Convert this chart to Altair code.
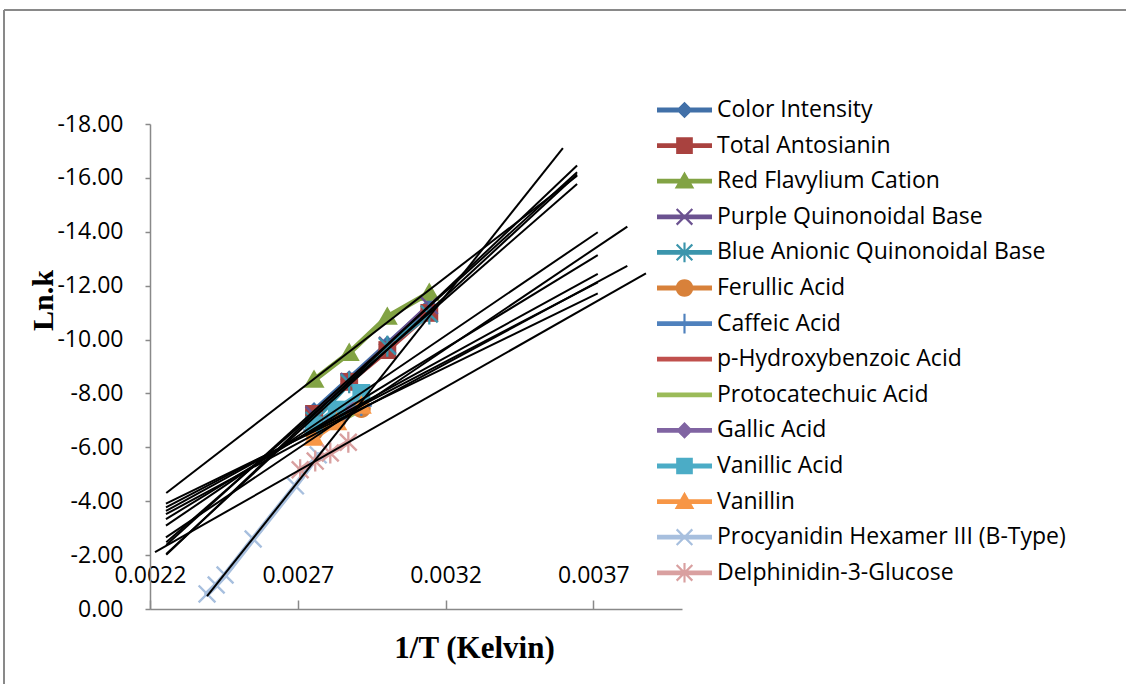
import math
import numpy as np
import pandas as pd
import altair as alt

# ---------------- data ----------------
series_names = [
    "Color Intensity", "Total Antosianin", "Red Flavylium Cation",
    "Purple Quinonoidal Base", "Blue Anionic Quinonoidal Base", "Ferullic Acid",
    "Caffeic Acid", "p-Hydroxybenzoic Acid", "Protocatechuic Acid", "Gallic Acid",
    "Vanillic Acid", "Vanillin", "Procyanidin Hexamer III (B-Type)",
    "Delphinidin-3-Glucose",
]
series_colors = [
    "#4170A8", "#A9423F", "#82A344", "#6B5290", "#3B95AC", "#D8813A",
    "#4F81BD", "#C0504D", "#9BBB59", "#8064A2", "#4BACC6", "#F79646",
    "#A7BFDE", "#D9A0A0",
]
series_markers = [
    "diamond", "square", "triangle", "x", "asterisk", "circle", "plus",
    "none", "none", "diamond", "square", "triangle", "x", "asterisk",
]

# 1/T values (1/K)
inv_t_anthocyanin = [0.002755, 0.002874, 0.003003, 0.003145]
inv_t_phenolic = [0.002754, 0.002832, 0.002915]
inv_t_procyanidin = [0.002393, 0.002424, 0.002454, 0.002549, 0.002692, 0.002769]
inv_t_delphinidin = [0.002708, 0.002759, 0.002810, 0.002871]

# ln k values
ln_k_color_intensity = [-7.35, -8.53, -9.82, -11.23]
ln_k_total_antosianin = [-7.24, -8.43, -9.61, -10.99]
ln_k_red_flavylium = [-8.50, -9.50, -10.84, -11.73]
ln_k_purple_quinonoidal = [-7.21, -8.44, -9.79, -11.26]
ln_k_blue_anionic = [-7.00, -8.40, -9.75, -10.95]
ln_k_ferullic = [-6.58, -7.00, -7.44]
ln_k_caffeic = [-6.63, -7.08, -7.55]
ln_k_p_hydroxybenzoic = [-6.65, -7.12, -7.62]
ln_k_protocatechuic = [-6.47, -6.93, -7.42]
ln_k_gallic = [-6.69, -7.21, -7.77]
ln_k_vanillic = [-6.82, -7.40, -8.02]
ln_k_vanillin = [-6.35, -6.93, -7.54]
ln_k_procyanidin = [-0.56, -0.89, -1.26, -2.60, -4.57, -5.72]
ln_k_delphinidin = [-5.17, -5.49, -5.79, -6.19]

# linear trendline extents (backward / forward forecast), in 1/T units
trend_start = [0.002255] * 5 + [0.002254] * 7 + [0.002393, 0.002217]
trend_end = [0.003645] * 5 + [0.003715, 0.003715, 0.003715, 0.003815,
                              0.003715, 0.003715, 0.003815] + [0.003597, 0.003878]

x_ticks = [0.0022, 0.0027, 0.0032, 0.0037]
y_ticks = [-18, -16, -14, -12, -10, -8, -6, -4, -2, 0]

# ---------------- assemble tables ----------------
series_x = [inv_t_anthocyanin] * 5 + [inv_t_phenolic] * 7 + [inv_t_procyanidin, inv_t_delphinidin]
series_y = [
    ln_k_color_intensity, ln_k_total_antosianin, ln_k_red_flavylium,
    ln_k_purple_quinonoidal, ln_k_blue_anionic, ln_k_ferullic, ln_k_caffeic,
    ln_k_p_hydroxybenzoic, ln_k_protocatechuic, ln_k_gallic, ln_k_vanillic,
    ln_k_vanillin, ln_k_procyanidin, ln_k_delphinidin,
]

rows = []
for name, xs, ys in zip(series_names, series_x, series_y):
    for xv, yv in zip(xs, ys):
        rows.append({"series": name, "inv_t": xv, "ln_k": yv})
df = pd.DataFrame(rows)

trend_rows = []
for name, xs, ys, x0, x1 in zip(series_names, series_x, series_y, trend_start, trend_end):
    slope, intercept = np.polyfit(xs, ys, 1)
    for xv in (x0, x1):
        trend_rows.append({"series": name, "inv_t": xv, "ln_k": slope * xv + intercept})
trend_df = pd.DataFrame(trend_rows)

# ---------------- marker shapes (SVG paths in [-1, 1]) ----------------
A, D, T = 0.8, 0.08, 0.11
x_a = [(-A + D, -A - D), (A + D, A - D), (A - D, A + D), (-A - D, -A + D)]
x_b = [(-A - D, A - D), (A - D, -A - D), (A + D, -A + D), (-A + D, A + D)]
v_bar = [(-T, -1), (T, -1), (T, 1), (-T, 1)]
h_bar = [(-1, -T), (1, -T), (1, T), (-1, T)]
MARKER_POLYS = {
    "diamond": [[(0, -0.85), (0.85, 0), (0, 0.85), (-0.85, 0)]],
    "square": [[(-0.85, -0.85), (0.85, -0.85), (0.85, 0.85), (-0.85, 0.85)]],
    "triangle": [[(0, -1), (1, 0.75), (-1, 0.75)]],
    "circle": [[(0.9 * math.cos(2 * math.pi * i / 28), 0.9 * math.sin(2 * math.pi * i / 28))
                for i in range(28)]],
    "x": [x_a, x_b],
    "asterisk": [x_a, x_b, v_bar],
    "plus": [v_bar, h_bar],
    "none": [],
}


def poly_path(polys, s):
    return "".join("M" + "L".join(f"{px * s:.4f},{py * s:.4f}" for px, py in pts) + "Z"
                   for pts in polys)


MARKER_PX = 10.5           # half size of a plot marker in pixels
LEGEND_MARKER_PX = 9.8     # half size of a legend marker in pixels
LEGEND_HALF = 27.5         # half length of the legend line sample in pixels
LINE_HALF = 2.4            # half thickness of the legend line sample
legend_line = [(-1, -LINE_HALF / LEGEND_HALF), (1, -LINE_HALF / LEGEND_HALF),
               (1, LINE_HALF / LEGEND_HALF), (-1, LINE_HALF / LEGEND_HALF)]

marked = [(n, m) for n, m in zip(series_names, series_markers) if m != "none"]
point_domain = [n for n, _ in marked]
point_paths = [poly_path(MARKER_POLYS[m], 1.0) for _, m in marked]
legend_paths = [poly_path([legend_line], 1.0)
                + poly_path(MARKER_POLYS[m], LEGEND_MARKER_PX / LEGEND_HALF)
                for m in series_markers]
points_df = df[df["series"].isin(point_domain)]

# ---------------- styles ----------------
GRAY = "#898989"
LABEL_FONT = "Open Sans"
TITLE_FONT = "Liberation Serif"

x_scale = alt.Scale(domain=[0.0022, 0.0040], nice=False, zero=False)
y_scale = alt.Scale(domain=[-18, 0], reverse=True, nice=False, zero=False)

x_axis = alt.Axis(
    orient="top", offset=-485, values=x_ticks, format=".4f", labelFlush=False,
    labelFont=LABEL_FONT, labelFontSize=23, labelColor="#000000", labelPadding=13,
    tickSize=9, tickColor=GRAY, tickWidth=1.5, domainColor=GRAY, domainWidth=1.5,
    grid=False, title="1/T (Kelvin)", titleFont=TITLE_FONT, titleFontWeight="bold",
    titleFontSize=31, titleColor="#000000", titleX=324, titleY=39,
    titleAlign="center", titleBaseline="middle",
)
y_axis = alt.Axis(
    values=y_ticks, labelExpr="replace(format(datum.value, '.2f'), '\u2212', '-')",
    labelFlush=False, labelFont=LABEL_FONT, labelFontSize=23, labelColor="#000000",
    labelPadding=22, tickSize=5, tickColor=GRAY, tickWidth=1.5, domainColor=GRAY,
    domainWidth=1.5, grid=False, title="Ln.k", titleFont=TITLE_FONT,
    titleFontWeight="bold", titleFontSize=30, titleColor="#000000", titleX=-107,
    titleY=176, titleAngle=270, titleAlign="center", titleBaseline="middle",
)

x_enc = alt.X("inv_t:Q", scale=x_scale, axis=x_axis)
y_enc = alt.Y("ln_k:Q", scale=y_scale, axis=y_axis)
color_scale = alt.Scale(domain=series_names, range=series_colors)

# ---------------- layers ----------------
frame_df = pd.DataFrame({"k": [0]})
frame_left = alt.Chart(frame_df).mark_rule(color=GRAY, strokeWidth=2).encode(
    x=alt.value(-146), y=alt.value(-114), y2=alt.value(565))
frame_top = alt.Chart(frame_df).mark_rule(color=GRAY, strokeWidth=2).encode(
    x=alt.value(-146), x2=alt.value(980), y=alt.value(-114))

lines = alt.Chart(df).mark_line(strokeWidth=5.5, strokeCap="round", strokeJoin="round").encode(
    x=x_enc, y=y_enc,
    color=alt.Color("series:N", scale=color_scale, legend=None),
    detail="series:N",
)

points = alt.Chart(points_df).mark_point(filled=True, opacity=1, size=(2 * MARKER_PX) ** 2,
                                         strokeWidth=0).encode(
    x=x_enc, y=y_enc,
    color=alt.Color("series:N", scale=color_scale, legend=None),
    shape=alt.Shape("series:N", scale=alt.Scale(domain=point_domain, range=point_paths),
                    legend=None),
)

trends = alt.Chart(trend_df).mark_line(color="black", strokeWidth=2).encode(
    x=x_enc, y=y_enc, detail="series:N")

legend_props = dict(
    orient="none", legendX=507, legendY=-29, direction="vertical", title=None,
    labelFont=LABEL_FONT, labelFontSize=23, labelColor="#000000", labelOffset=5,
    labelLimit=500, symbolSize=(2 * LEGEND_HALF) ** 2, symbolStrokeWidth=0,
    symbolOpacity=1, symbolOffset=0, clipHeight=30, rowPadding=5.6, padding=0,
)
legend_df = pd.DataFrame({"series": series_names})
legend_layer = alt.Chart(legend_df).transform_filter("false").mark_point(
    filled=True, size=(2 * LEGEND_HALF) ** 2).encode(
    color=alt.Color("series:N", scale=color_scale, legend=alt.Legend(**legend_props)),
    shape=alt.Shape("series:N", scale=alt.Scale(domain=series_names, range=legend_paths),
                    legend=alt.Legend(**legend_props)),
)

chart = alt.layer(frame_left, frame_top, lines, points, trends, legend_layer).resolve_scale(
    color="independent", shape="independent"
).properties(
    width=532, height=485,
    autosize=alt.AutoSizeParams(type="none"),
    padding={"left": 150, "top": 124, "right": 444, "bottom": 75},
    background="white",
).configure_view(stroke="transparent")

chart.save("out.html", embed_options={"renderer": "svg", "actions": False})
